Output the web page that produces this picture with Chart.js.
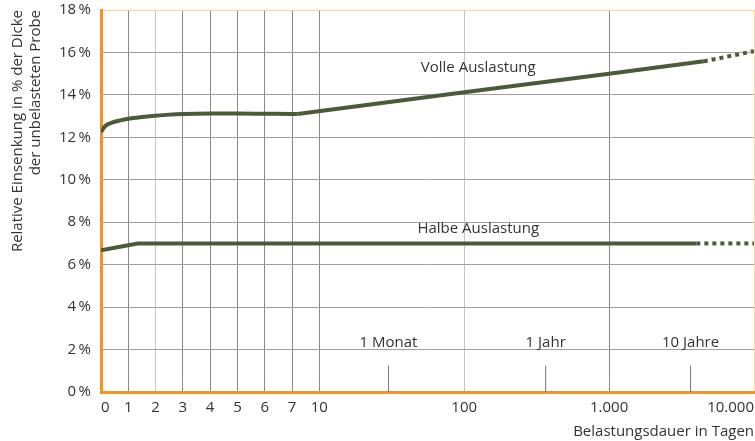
<!DOCTYPE html>
<html>
<head>
<meta charset="utf-8">
<script src="https://cdn.jsdelivr.net/npm/chart.js@4/dist/chart.umd.min.js"></script>
<style>
  html, body { margin: 0; padding: 0; background: #fff; }
  #wrap { width: 755px; height: 441px; }
</style>
</head>
<body>
<div id="wrap"><canvas id="chart"></canvas></div>
<script>
// Tick positions (days) and their labels
const dayTicks = [0, 1, 2, 3, 4, 5, 6, 7, 10, 100, 1000, 10000];
const dayLabels = ['0', '1', '2', '3', '4', '5', '6', '7', '10', '100', '1.000', '10.000'];
const yTicks = [0, 2, 4, 6, 8, 10, 12, 14, 16, 18];

// Volle Auslastung: curved start, straight rise, dotted extrapolation
const volleCurveDays = [0, 0.15, 0.4, 0.7, 1, 1.5, 2, 2.5, 3, 4, 5, 6, 7, 7.6];
const volleCurveValues = [12.25, 12.52, 12.69, 12.8, 12.88, 12.96, 13.02, 13.07, 13.1, 13.12, 13.12, 13.11, 13.1, 13.1];
const volleRiseDays = [7.6, 100, 1000, 4500];
const volleRiseValues = [13.1, 14.12, 15.0, 15.58];
const volleDotDays = [4500, 10000];
const volleDotValues = [15.58, 16.06];

// Halbe Auslastung
const halbeDays = [0, 1.34, 4000];
const halbeValues = [6.68, 7.0, 7.0];
const halbeDotDays = [4000, 10000];
const halbeDotValues = [7.0, 7.0];

// Time markers
const markerDays = [30, 365, 3650];
const markerLabels = ['1 Monat', '1 Jahr', '10 Jahre'];
const markerHeight = 1.25;
const markerLabelValue = 2.3;

// Curve labels
const curveLabels = [
  { text: 'Volle Auslastung', day: 125, value: 15.27 },
  { text: 'Halbe Auslastung', day: 125, value: 7.67 }
];

// 0..7 linear, 7..10 one step, then log decades
const DECADE = 5.31;
function toAxis(d) {
  if (d <= 7) return d;
  if (d <= 10) return 7 + (d - 7) / 3;
  return 8 + DECADE * Math.log10(d / 10);
}

function pts(days, vals) {
  return days.map((d, i) => ({ x: toAxis(d), y: vals[i] }));
}

const lineColor = '#4c5a3a';
const orange = '#f39325';
const font = { family: '"Open Sans", sans-serif', size: 15 };

const datasets = [
  { data: pts(volleCurveDays, volleCurveValues), borderColor: lineColor, borderWidth: 4, cubicInterpolationMode: 'monotone' },
  { data: pts(volleRiseDays, volleRiseValues), borderColor: lineColor, borderWidth: 4 },
  { data: pts(volleDotDays, volleDotValues), borderColor: lineColor, borderWidth: 4, borderDash: [4, 4] },
  { data: pts(halbeDays, halbeValues), borderColor: lineColor, borderWidth: 4 },
  { data: pts(halbeDotDays, halbeDotValues), borderColor: lineColor, borderWidth: 4, borderDash: [4, 4] }
];
markerDays.forEach(d => {
  datasets.push({ data: [{ x: toAxis(d), y: 0 }, { x: toAxis(d), y: markerHeight }], borderColor: '#777', borderWidth: 1 });
});

// Text labels drawn at data positions
const labelPlugin = {
  id: 'labels',
  afterDatasetsDraw(chart) {
    const { ctx, scales: { x, y } } = chart;
    ctx.save();
    ctx.font = '15px "Open Sans", sans-serif';
    ctx.fillStyle = '#333';
    ctx.textAlign = 'center';
    ctx.textBaseline = 'middle';
    curveLabels.forEach(l => ctx.fillText(l.text, x.getPixelForValue(toAxis(l.day)), y.getPixelForValue(l.value)));
    markerDays.forEach((d, i) => ctx.fillText(markerLabels[i], x.getPixelForValue(toAxis(d)), y.getPixelForValue(markerLabelValue)));
    ctx.restore();
  }
};

new Chart(document.getElementById('chart'), {
  type: 'line',
  data: { datasets: datasets },
  options: {
    responsive: true,
    maintainAspectRatio: false,
    animation: false,
    layout: { padding: { top: 10, right: 1 } },
    elements: { point: { radius: 0 }, line: { tension: 0, borderCapStyle: 'butt' } },
    plugins: { legend: { display: false }, tooltip: { enabled: false } },
    scales: {
      x: {
        type: 'linear',
        min: 0,
        max: toAxis(10000),
        afterBuildTicks: s => { s.ticks = dayTicks.map(d => ({ value: toAxis(d) })); },
        afterFit: s => { s.height = 49; s.paddingLeft = 0; s.paddingRight = 0; },
        ticks: {
          align: 'inner',
          padding: 7,
          color: '#333',
          font: font,
          maxRotation: 0,
          autoSkip: false,
          callback: (v, i) => dayLabels[i]
        },
        grid: {
          drawTicks: false,
          color: c => {
            const i = c.index;
            if (i === dayTicks.length - 1) return '#fdd6a3';
            if (i === 2 || i === 9) return '#c4c4c4';
            return '#8a8a8a';
          }
        },
        border: { color: orange, width: 3 },
        title: {
          display: true,
          text: 'Belastungsdauer in Tagen',
          align: 'end',
          color: '#333',
          font: font,
          padding: { top: 0, bottom: 0 }
        }
      },
      y: {
        min: 0,
        max: 18,
        afterBuildTicks: s => { s.ticks = yTicks.map(v => ({ value: v })); },
        afterFit: s => { s.width = 101; s.paddingTop = 0; s.paddingBottom = 0; },
        ticks: {
          padding: 10,
          color: '#333',
          font: font,
          callback: v => v + '\u2009%'
        },
        grid: {
          drawTicks: false,
          color: c => (c.tick && c.tick.value === 18) ? '#fdd6a3' : '#a0a0a0'
        },
        border: { color: orange, width: 3 },
        title: {
          display: true,
          text: ['Relative Einsenkung in % der Dicke', 'der unbelasteten Probe'],
          align: 'end',
          color: '#333',
          font: font,
          padding: { top: 9, bottom: 0 }
        }
      }
    }
  },
  plugins: [labelPlugin]
});
</script>
</body>
</html>
